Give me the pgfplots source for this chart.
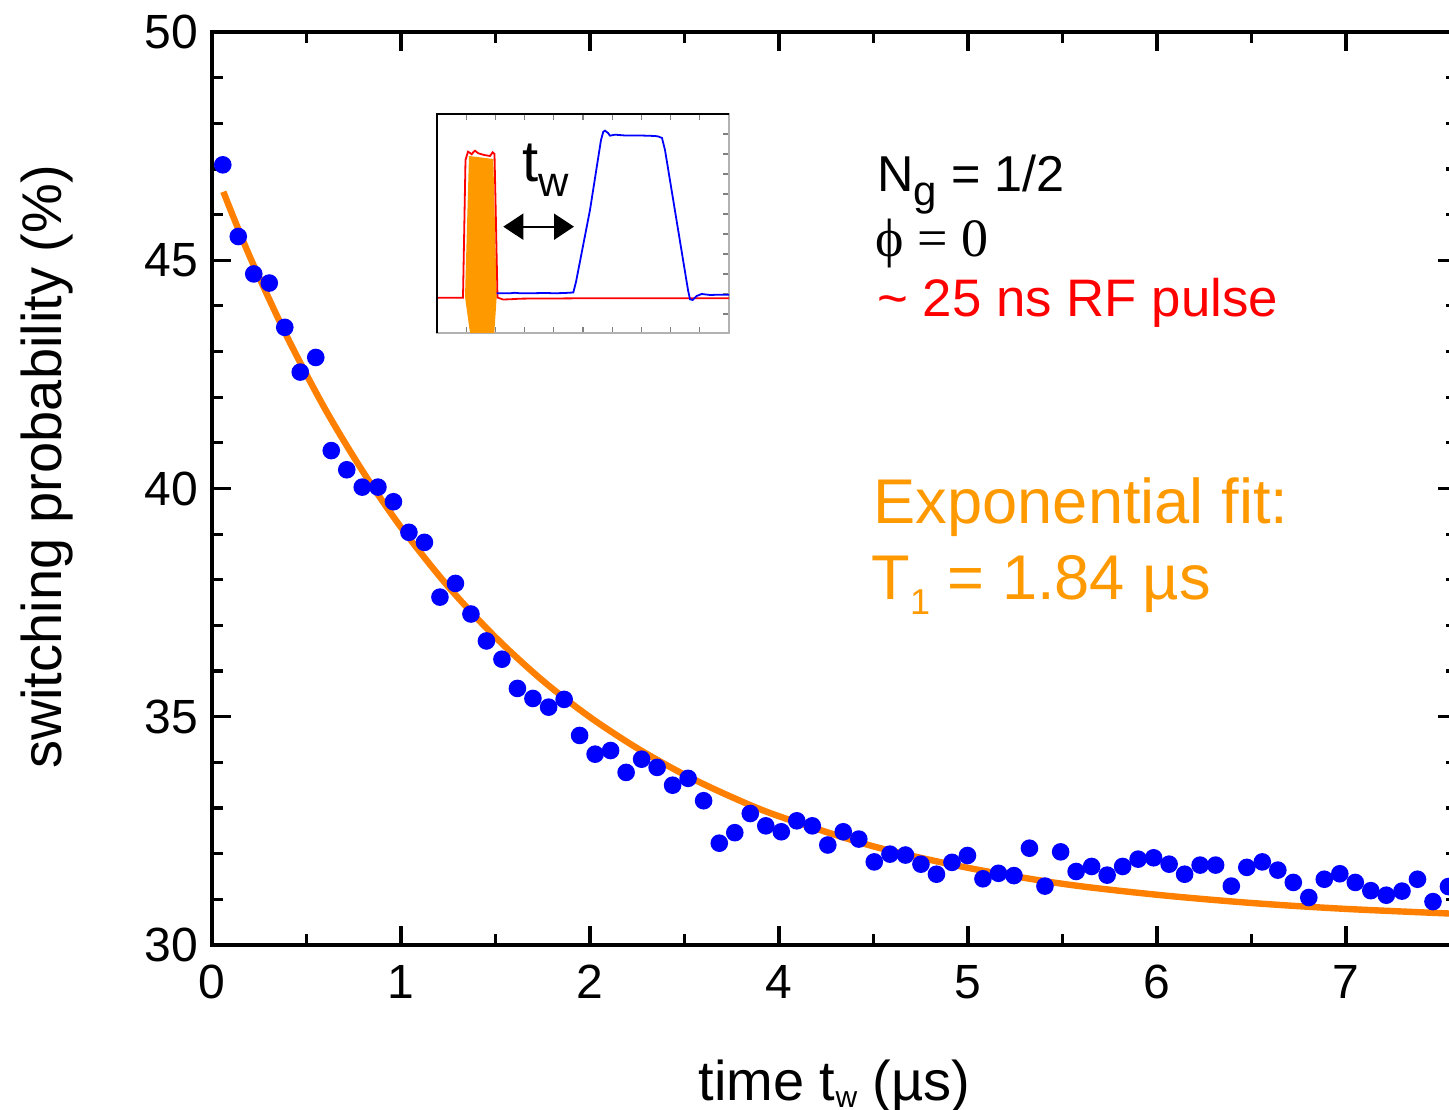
\documentclass[border=0pt]{standalone}
\usepackage{fontspec}
\setmainfont{Liberation Sans}
\newfontfamily\seriffont{Liberation Serif}
\usepackage{pgfplots}
\pgfplotsset{compat=1.18}
\usetikzlibrary{arrows.meta}
\definecolor{dotblue}{RGB}{0,0,255}
\definecolor{fitorange}{RGB}{255,128,0}
\definecolor{txtorange}{RGB}{255,153,0}
\definecolor{txtred}{RGB}{255,0,0}
\definecolor{pulseorange}{RGB}{255,153,0}
\newcommand{\sub}[3]{\raisebox{-#2}{\fontsize{#1}{#1}\selectfont #3}}
\begin{document}
\begin{tikzpicture}
\begin{axis}[
  at={(0,0)}, anchor=south west,
  scale only axis, width=311.25pt, height=228.25pt,
  xmin=0, xmax=6.587, ymin=30, ymax=50,
  xtick={0,1,2,3,4,5,6}, xticklabels={0,1,2,4,5,6,7},
  minor x tick num=1,
  ytick={30,35,40,45,50}, minor y tick num=4,
  tick align=inside,
  major tick length=4.75pt, minor tick length=2.75pt,
  every tick/.style={black, line width=0.8pt},
  axis line style={line width=1pt},
  ticklabel style={font=\fontsize{12}{14}\selectfont},
  xticklabel style={yshift=-1.5pt},
  /pgf/number format/assume math mode=true,
  xlabel={time t\sub{7.5pt}{1.75pt}{w} (µs)},
  ylabel={switching probability (\%)},
  xlabel style={at={(rel axis cs:0.5,-0.1698)}, anchor=base, font=\fontsize{14}{16}\selectfont},
  ylabel style={at={(rel axis cs:-0.1325,0.5235)}, anchor=center, font=\fontsize{14}{16}\selectfont},
]
\addplot[fitorange, line width=1.6pt, smooth] coordinates {
(0.060,46.50) (0.2,45.08) (0.4,43.30) (0.6,41.73) (0.8,40.36) (1.0,39.15)
(1.25,37.85) (1.5,36.74) (1.75,35.79) (2.0,34.99) (2.25,34.31) (2.5,33.73)
(2.75,33.24) (3.0,32.82) (3.5,32.16) (4.0,31.69) (4.5,31.34) (5.0,31.10)
(5.5,30.92) (6.0,30.79) (6.6,30.68)
};
\addplot[only marks, mark=*, mark size=2pt, mark options={draw=dotblue, fill=dotblue}] coordinates {
(0.057,47.09) (0.139,45.52) (0.221,44.70) (0.303,44.50) (0.385,43.53)
(0.467,42.55) (0.549,42.87) (0.631,40.83) (0.713,40.41) (0.795,40.03)
(0.878,40.03) (0.960,39.71) (1.042,39.04) (1.124,38.82) (1.206,37.62)
(1.288,37.92) (1.370,37.25) (1.452,36.66) (1.534,36.26) (1.616,35.62)
(1.698,35.40) (1.781,35.21) (1.863,35.38) (1.945,34.59) (2.027,34.18)
(2.109,34.26) (2.191,33.78) (2.273,34.07) (2.355,33.89) (2.437,33.50)
(2.519,33.65) (2.601,33.16) (2.684,32.23) (2.766,32.46) (2.848,32.88)
(2.930,32.61) (3.012,32.48) (3.094,32.72) (3.176,32.61) (3.258,32.19)
(3.340,32.48) (3.422,32.32) (3.504,31.82) (3.587,31.99) (3.669,31.97)
(3.751,31.77) (3.833,31.55) (3.915,31.81) (3.997,31.96) (4.079,31.45)
(4.161,31.57) (4.243,31.52) (4.325,32.12) (4.407,31.29) (4.490,32.04)
(4.572,31.61) (4.654,31.72) (4.736,31.53) (4.818,31.72) (4.900,31.88)
(4.982,31.91) (5.064,31.77) (5.146,31.55) (5.228,31.75) (5.310,31.75)
(5.393,31.29) (5.475,31.70) (5.557,31.82) (5.639,31.64) (5.721,31.37)
(5.803,31.04) (5.885,31.44) (5.967,31.56) (6.049,31.37) (6.131,31.19)
(6.213,31.09) (6.296,31.18) (6.378,31.44) (6.460,30.95) (6.542,31.28)
};
\node[anchor=base west, inner sep=0, font=\fontsize{12.6}{15}\selectfont] at (axis cs:3.517,46.50) {N\sub{10.5pt}{3.5pt}{g} = 1/2};
\node[anchor=base west, inner sep=0, font=\fontsize{13.5}{15}\selectfont\seriffont] at (axis cs:3.508,45.08) {ϕ = 0};
\node[anchor=base west, inner sep=0, font=\fontsize{13.2}{15}\selectfont, text=txtred] at (axis cs:3.517,43.76) {\textasciitilde{} 25 ns RF pulse};
\node[anchor=base west, inner sep=0, font=\fontsize{15.8}{18}\selectfont, text=txtorange] at (axis cs:3.497,39.24) {Exponential fit:};
\node[anchor=base west, inner sep=0, font=\fontsize{15.8}{18}\selectfont, text=txtorange] at (axis cs:3.485,37.56) {T\sub{9pt}{3.75pt}{1} = 1.84 µs};
\end{axis}
\begin{axis}[
  at={(56.25pt,153pt)}, anchor=south west,
  scale only axis, width=73pt, height=54.75pt,
  xmin=437, xmax=729, ymin=114, ymax=333, y dir=reverse,
  axis background/.style={fill=white},
  xtick={437,466.2,495.4,524.6,553.8,583,612.2,641.4,670.6,699.8,729},
  ytick={134,154,174,194,214,234,254,274,294,314},
  xticklabels={}, yticklabels={},
  ytick pos=right,
  tick align=inside, major tick length=1.5pt,
  every tick/.style={gray, line width=0.3pt},
  axis line style={gray!60, line width=0.4pt},
  clip=false,
]
\addplot[fill=pulseorange, draw=none] coordinates {
(465,296.7) (469,156) (493.3,159) (496.7,296.7) (494.3,333) (470,333)
} -- cycle;
\addplot[txtred, line width=0.45pt] coordinates {
(437,297.7) (463,297.7) (465.5,160) (468,151.7) (470,153) (471.7,154.3)
(473.5,152) (475,150.7) (478.3,153.3) (484,155) (490,156) (492.7,152.3)
(494.5,154) (495.5,200) (497.5,297.5) (503,299.5) (510,299.3) (520,298.7)
(535,298.5) (550,298.5) (600,298.2) (650,298.2) (729,298.2)
};
\addplot[dotblue, line width=0.45pt] coordinates {
(496.7,293.3) (510,293.3) (515,292.8) (520,293.3) (530,293.3) (545,293)
(555,293.3) (565,293) (573.3,292.5) (576,282) (590,210) (601,140)
(603.3,131.7) (605,130.7) (608,133) (610,135.7) (615,134.7) (625,135.5)
(640,135.5) (655,136) (658.3,136.5) (662,138) (665,150) (688,290)
(690,299.3) (692.7,300) (696.7,296) (701.7,294) (710,295) (720,294.7) (729,294.7)
};
\draw[black, line width=0.5pt] (axis cs:437,333) -- (axis cs:437,114) -- (axis cs:729,114);
\node[anchor=base west, inner sep=0, font=\fontsize{14.5}{17}\selectfont] at (axis cs:521.7,181.7) {t\sub{10.5pt}{3.75pt}{w}};
\draw[{Triangle[length=5pt,width=6.5pt]}-{Triangle[length=5pt,width=6.5pt]}, line width=0.5pt] (axis cs:503.3,226.7) -- (axis cs:574,226.7);
\end{axis}
\pgfresetboundingbox
\path[use as bounding box] (-53pt,-41.25pt) rectangle (309.25pt,236.25pt);
\end{tikzpicture}
\end{document}
